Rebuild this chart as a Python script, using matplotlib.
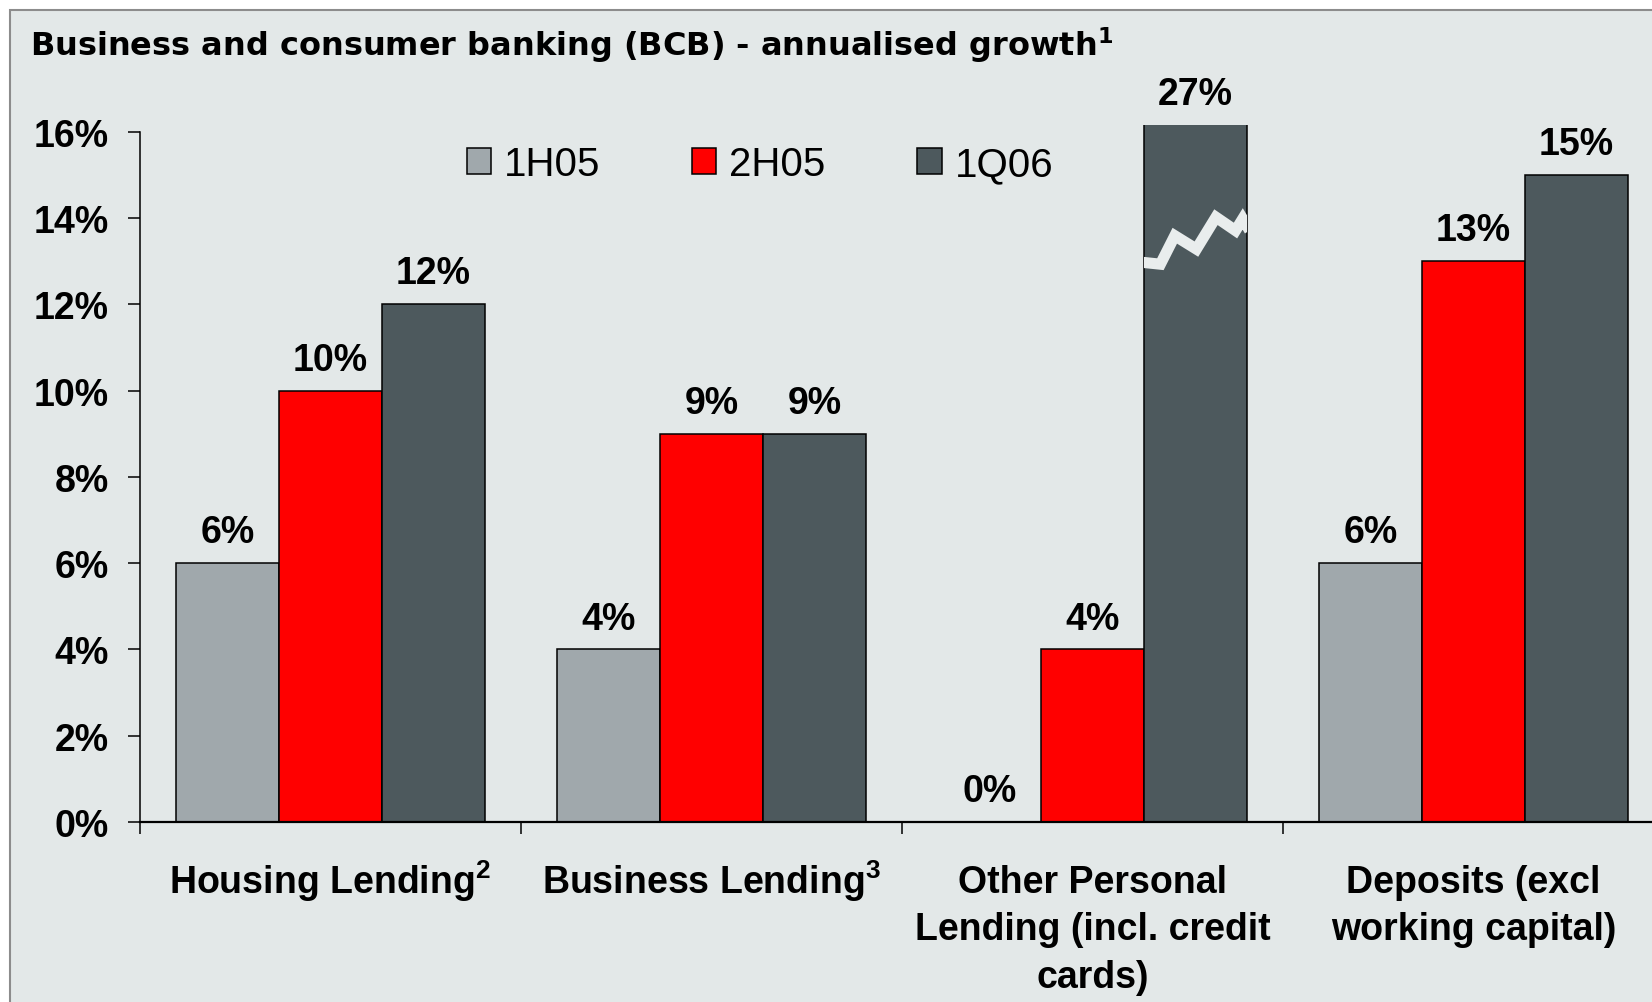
import matplotlib
matplotlib.use("Agg")
import matplotlib.pyplot as plt
from matplotlib.patches import Rectangle
from matplotlib.transforms import ScaledTranslation
import numpy as np

# ---- data -------------------------------------------------------------
categories = [
    "Housing Lending$^{2}$",
    "Business Lending$^{3}$",
    "Other Personal\nLending (incl. credit\ncards)",
    "Deposits (excl\nworking capital)",
]
series_names = ["1H05", "2H05", "1Q06"]
growth_1h05 = [6, 4, 0, 6]
growth_2h05 = [10, 9, 4, 13]
growth_1q06 = [12, 9, 27, 15]
y_ticks = [0, 2, 4, 6, 8, 10, 12, 14, 16]
y_tick_labels = [f"{v}%" for v in y_ticks]
title = "Business and consumer banking (BCB) - annualised growth$^{1}$"

# ---- style ------------------------------------------------------------
colors = ["#A0A8AC", "#FF0000", "#4D595D"]
panel_bg = "#E3E8E8"
plt.rcParams["font.family"] = ["Liberation Sans", "DejaVu Sans"]
plt.rcParams["mathtext.default"] = "regular"

W, H = 1652, 1003
fig = plt.figure(figsize=(W / 100, H / 100), dpi=100, facecolor="white")

# grey framed panel behind the chart
fig.add_artist(Rectangle((10 / W, -0.05), 1.1, (H - 11) / H + 0.05,
                         transform=fig.transFigure, facecolor=panel_bg,
                         edgecolor="#8C8C8C", linewidth=1.5, zorder=-10))

y_top = 16.15          # axis is cut just above 16%
px_per_pct = 43.14
ax = fig.add_axes([140 / W, 180 / H, 1524 / W, y_top * px_per_pct / H])
ax.set_facecolor("none")
ax.set_xlim(-0.5, 3.5)
ax.set_ylim(0, y_top)

x = np.arange(len(categories))
bw = 0.27
series = [growth_1h05, growth_2h05, growth_1q06]
containers = []
for i, (vals, c, name) in enumerate(zip(series, colors, series_names)):
    bc = ax.bar(x + (i - 1) * bw, vals, bw, color=c, edgecolor="black",
                linewidth=1.1, label=name, zorder=2)
    containers.append(bc)
    for rect, v in zip(bc, vals):
        top = min(v, y_top)
        ax.annotate(f"{v}%", (rect.get_x() + rect.get_width() / 2, top),
                    xytext=(0, 15), textcoords="offset points",
                    ha="center", va="baseline", fontsize=27,
                    fontweight="bold", annotation_clip=False)

# zig-zag break symbol on bars taller than the axis
zig_fx = np.array([0, 0.16, 0.30, 0.51, 0.70, 0.89, 0.96, 1.0])
zig_dy = np.array([-0.43, -0.47, 0.19, -0.12, 0.62, 0.31, 0.58, 0.42])
break_level = 13.4
for rect, v in zip(containers[2], growth_1q06):
    if v > y_top:
        x0, w = rect.get_x(), rect.get_width()
        ln, = ax.plot(x0 + zig_fx * w, break_level + zig_dy, color="#E9EDED",
                      lw=8, zorder=3, solid_joinstyle="miter")
        ln.set_clip_path(rect)

# ---- axes -------------------------------------------------------------
for s in ["top", "right"]:
    ax.spines[s].set_visible(False)
ax.spines["left"].set_bounds(0, 16)
ax.spines["left"].set_linewidth(1.1)
ax.spines["bottom"].set_linewidth(1.6)
ax.spines["left"].set_zorder(4)
ax.spines["bottom"].set_zorder(4)

ax.set_yticks(y_ticks)
ax.set_yticklabels(y_tick_labels, fontsize=27, fontweight="bold")
ax.tick_params(axis="y", direction="out", length=8.6, width=1.1, pad=14)

ax.set_xticks(np.arange(-0.5, len(categories) + 0.5, 1))
ax.set_xticklabels([])
ax.tick_params(axis="x", which="major", direction="out", length=8.6, width=1.1)
ax.set_xticks(x, minor=True)
ax.set_xticklabels(categories, minor=True, fontsize=27, fontweight="bold",
                   linespacing=1.41)
ax.tick_params(axis="x", which="minor", length=0, pad=30)

# labels with a raised footnote mark sit a little higher so that all
# first lines share one baseline
lift = ScaledTranslation(0, 4.3 / 72, fig.dpi_scale_trans)
for lbl in ax.get_xticklabels(minor=True):
    if "$" in lbl.get_text():
        lbl.set_transform(lbl.get_transform() + lift)

ax.legend(handles=containers, labels=series_names, ncol=3, frameon=False,
          loc="center left", bbox_to_anchor=(467 / W, 1 - 165 / H),
          bbox_transform=fig.transFigure,
          prop={"family": "Liberation Sans", "size": 29},
          handlelength=0.6, handleheight=0.6, handletextpad=0.32,
          columnspacing=2.28, borderpad=0, borderaxespad=0)

fig.text(30 / W, 1 - 56 / H, title, fontsize=23, fontweight="bold",
         family="DejaVu Sans", va="baseline")

fig.savefig("out.png", dpi=100, facecolor="white")
